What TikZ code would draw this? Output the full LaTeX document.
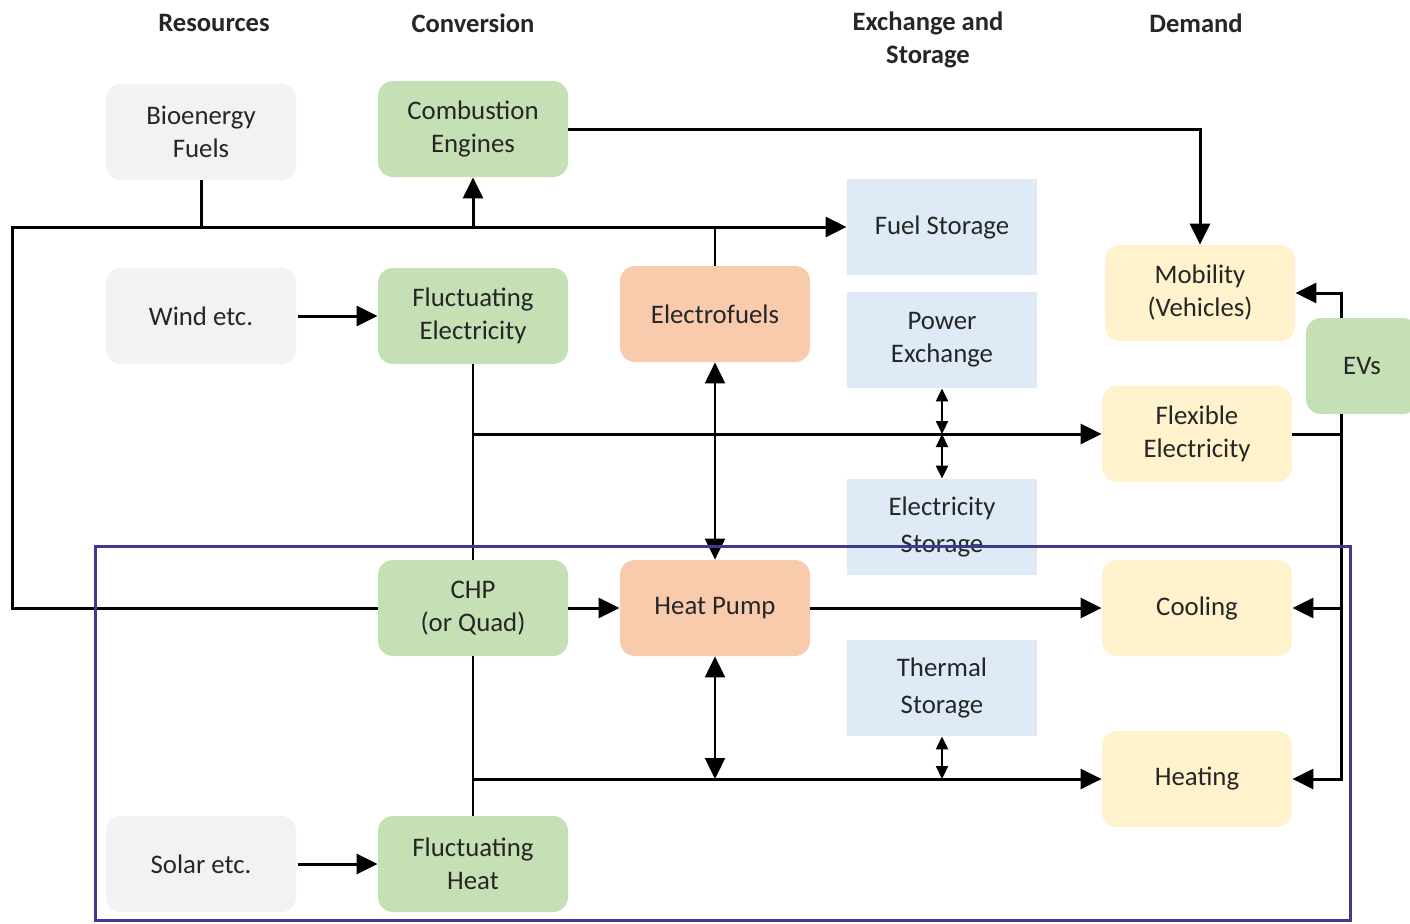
\documentclass[tikz,border=0pt]{standalone}
\usepackage{fontspec}
\setmainfont{Carlito}
\usetikzlibrary{arrows.meta}
\definecolor{cgray}{HTML}{F2F2F2}
\definecolor{cgreen}{HTML}{C5E0B4}
\definecolor{corange}{HTML}{F8CBAD}
\definecolor{cblue}{HTML}{DEEBF7}
\definecolor{cyellow}{HTML}{FFF2CC}
\definecolor{cpurple}{HTML}{3F3A8E}
\tikzset{
  box/.style={minimum width=95pt,minimum height=48pt,align=center,inner sep=1pt,
    font=\fontsize{13.4}{16.5}\selectfont,text=black!85},
  rbox/.style={box,rounded corners=7.5pt},
  gbox/.style={rbox,fill=cgray},
  grbox/.style={rbox,fill=cgreen},
  obox/.style={rbox,fill=corange},
  ybox/.style={rbox,fill=cyellow},
  bbox/.style={box,fill=cblue},
  hdr/.style={font=\fontsize{13.3}{16.5}\selectfont\bfseries,align=center,text=black!85},
  ln/.style={line width=1.5pt},
  tln/.style={line width=1.1pt},
  arr/.style={ln,-{Triangle[length=10.5pt,width=10pt]}},
  darr/.style={tln,{Triangle[length=10.5pt,width=10pt]}-{Triangle[length=10.5pt,width=10pt]}},
  sdarr/.style={tln,{Triangle[length=6.5pt,width=6pt]}-{Triangle[length=6.5pt,width=6pt]}},
}
\begin{document}
\begin{tikzpicture}[x=0.5pt,y=-0.5pt]
\useasboundingbox (0,0) rectangle (1410,923);
% headers
\node[hdr] (h1) at (214,23) {Resources};
\node[hdr] (h2) at (473,23) {Conversion};
\node[hdr] (h3) at (928,40) {Exchange and\\Storage};
\node[hdr] (h4) at (1196,23) {Demand};
% nodes
\node[gbox] (Bio) at (201,132) {Bioenergy\\Fuels};
\node[grbox] (Comb) at (473,129) {Combustion\\Engines};
\node[gbox] (Wind) at (201,316) {Wind etc.};
\node[grbox] (FE) at (473,316) {Fluctuating\\Electricity};
\node[obox] (EF) at (715,314) {Electrofuels};
\node[bbox] (FS) at (942,227) {Fuel Storage};
\node[bbox] (PE) at (942,340) {Power\\Exchange};
\node[bbox] (ES) at (942,527) {Electricity\\[2pt]Storage};
\node[ybox] (Mob) at (1200,293) {Mobility\\(Vehicles)};
\node[grbox,minimum width=56pt] (EVs) at (1362,366) {EVs};
\node[ybox] (Flex) at (1197,434) {Flexible\\Electricity};
\node[grbox] (CHP) at (473,608) {CHP\\(or Quad)};
\node[obox] (HP) at (715,608) {Heat Pump};
\node[ybox] (Cool) at (1197,608) {Cooling};
\node[bbox] (TS) at (942,688) {Thermal\\[2pt]Storage};
\node[ybox] (Heat) at (1197,779) {Heating};
\node[gbox] (Sol) at (201,864) {Solar etc.};
\node[grbox] (FH) at (473,864) {Fluctuating\\Heat};
% coordinates
\coordinate (L) at (12,227);
\coordinate (R) at (1341,0);
% connectors
\draw[arr] (Comb.east) -| (Mob.north);
\draw[ln] (Bio.south) -- (Bio.south |- L);
\draw[arr] (CHP.west) -| (L) -- (FS.west);
\draw[arr] (Comb.south |- L) -- (Comb.south);
\draw[tln] (EF.north) -- (EF.north |- L);
\draw[arr] (Wind.east) ++(2,0) -- (FE.west);
\draw[arr] (Sol.east) ++(2,0) -- (FH.west);
\draw[tln] (FE.south) -- (CHP.north);
\draw[tln] (CHP.south) -- (FH.north);
\draw[arr] (FE.south |- Flex.west) -- (Flex.west);
\draw[arr] (FE.south |- Heat.west) -- (Heat.west);
\draw[darr] (EF.south) -- (HP.north);
\draw[sdarr] (PE.south) -- (PE.south |- Flex.west);
\draw[sdarr] (PE.south |- Flex.west) -- (ES.north);
\draw[arr] (CHP.east) -- (HP.west);
\draw[arr] (HP.east) -- (Cool.west);
\draw[darr] (HP.south) -- (HP.south |- Heat.west);
\draw[sdarr] (TS.south) -- (TS.south |- Heat.west);
\draw[ln] (Flex.east) -- (Flex.east -| R);
\draw[arr] (EVs.north -| R) |- (Mob.east);
\draw[arr] (EVs.south -| R) |- (Heat.east);
\draw[arr] (Cool.east -| R) -- (Cool.east);
% region frame
\draw[cpurple,line width=1.5pt] (95,546) rectangle (1350,920);
\end{tikzpicture}
\end{document}
